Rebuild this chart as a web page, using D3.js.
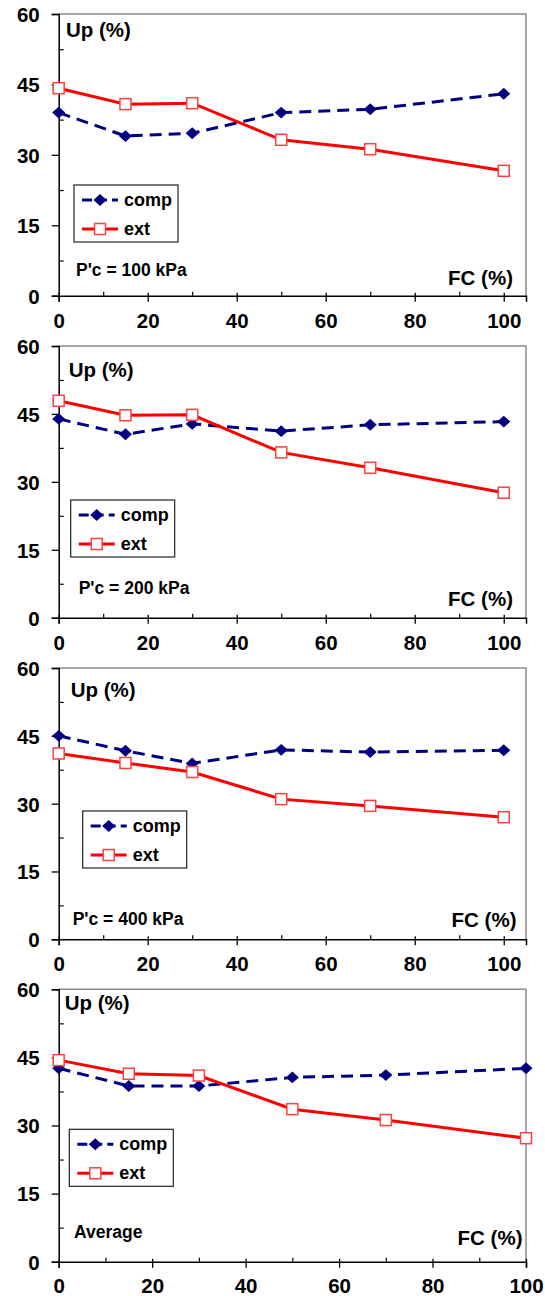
<!DOCTYPE html>
<html>
<head>
<meta charset="utf-8">
<script src="https://cdn.jsdelivr.net/npm/d3@7"></script>
<style>
  html, body { margin: 0; padding: 0; background: #fff; }
  svg { display: block; }
  text { font-family: "Liberation Sans", Arial, sans-serif; font-weight: bold; fill: #000; }
</style>
</head>
<body>
<svg id="chart" width="545" height="1296"></svg>
<script>
// ---- Data ----
const fc = [0, 15, 30, 50, 70, 100];
const seriesNames = ["comp", "ext"];
const panelLabels = ["P'c = 100 kPa", "P'c = 200 kPa", "P'c = 400 kPa", "Average"];
const comp100 = [39.0, 34.0, 34.6, 39.0, 39.7, 43.0];
const ext100  = [44.2, 40.8, 41.0, 33.2, 31.2, 26.6];
const comp200 = [43.9, 40.5, 42.8, 41.2, 42.6, 43.3];
const ext200  = [47.9, 44.7, 44.8, 36.5, 33.1, 27.6];
const comp400 = [45.0, 41.7, 38.9, 41.9, 41.4, 41.8];
const ext400  = [41.1, 39.0, 37.0, 31.0, 29.5, 27.0];
const compAvg = [42.6, 38.7, 38.7, 40.6, 41.1, 42.6];
const extAvg  = [44.4, 41.4, 41.0, 33.6, 31.2, 27.2];
const yTicks = [0, 15, 30, 45, 60];
const yMinorTicks = [7.5, 22.5, 37.5, 52.5];
const xTicks = [0, 20, 40, 60, 80, 100];
const xMinorTicks = [10, 30, 50, 70, 90];
const yTitle = "Up (%)";
const xTitle = "FC (%)";

// ---- Layout ----
const panels = [
  { comp: comp100, ext: ext100, label: panelLabels[0], top: 14,    bottom: 295.7,  xMax: 105,
    legend: [74, 185],    up: [66, 37],      lab: [76, 276],    fcR: [513, 285],  xlab: 32 },
  { comp: comp200, ext: ext200, label: panelLabels[1], top: 346,   bottom: 617.7,  xMax: 105,
    legend: [70.7, 500],  up: [68.7, 376.7], lab: [78.7, 594],  fcR: [513, 606],  xlab: 32 },
  { comp: comp400, ext: ext400, label: panelLabels[2], top: 668,   bottom: 939.3,  xMax: 105,
    legend: [82.7, 811],  up: [70.7, 696.7], lab: [72.7, 925],  fcR: [516.5, 926.5], xlab: 32 },
  { comp: compAvg, ext: extAvg, label: panelLabels[3], top: 989.3, bottom: 1261.7, xMax: 100,
    legend: [69.3, 1129.3], up: [64.7, 1010], lab: [74, 1238], fcR: [522.5, 1245], xlab: 31 }
];
const left = 58.7, right = 526;
const compColor = "#000080", extColor = "#FF0000";

const svg = d3.select("#chart");

function diamond(g, x, y) {
  g.append("path")
    .attr("d", d3.symbol().type(d3.symbolDiamond2 || d3.symbolDiamond).size(90)())
    .attr("transform", `translate(${x},${y}) scale(1.1,1)`)
    .attr("fill", compColor);
}
function square(g, x, y) {
  g.append("rect")
    .attr("x", x - 5.5).attr("y", y - 5.5)
    .attr("width", 11).attr("height", 11)
    .attr("fill", "#fff").attr("stroke", "#FF4040").attr("stroke-width", 1.5);
}

panels.forEach(p => {
  const g = svg.append("g");
  const x = d3.scaleLinear().domain([0, p.xMax]).range([left, right]);
  const y = d3.scaleLinear().domain([0, 60]).range([p.bottom, p.top]);

  // plot frame (top + right, gray)
  g.append("path")
    .attr("d", `M${left},${p.top}H${right}V${p.bottom}`)
    .attr("fill", "none").attr("stroke", "#8c8c8c").attr("stroke-width", 1.5);

  // y axis
  const ya = g.append("g").attr("transform", `translate(${left},0)`)
    .call(d3.axisLeft(y).tickValues(yTicks).tickSize(7).tickPadding(12).tickFormat(d3.format("d")));
  ya.select(".domain").attr("stroke", "#000").attr("stroke-width", 1.5);
  ya.selectAll(".tick line").attr("stroke", "#000").attr("stroke-width", 1.3);
  ya.selectAll(".tick text").attr("font-size", 20.5).attr("font-family", "Liberation Sans, Arial, sans-serif")
    .attr("font-weight", "bold").attr("fill", "#000").attr("x", -19).attr("dy", "0.36em");
  const ym = g.append("g").attr("transform", `translate(${left},0)`)
    .call(d3.axisRight(y).tickValues(yMinorTicks).tickSize(5).tickFormat(""));
  ym.select(".domain").remove();
  ym.selectAll(".tick line").attr("stroke", "#000").attr("stroke-width", 1.2);

  // x axis
  const xa = g.append("g").attr("transform", `translate(0,${p.bottom})`)
    .call(d3.axisBottom(x).tickValues(xTicks).tickSize(6).tickFormat(d3.format("d")));
  xa.select(".domain").attr("stroke", "#000").attr("stroke-width", 1.5);
  xa.selectAll(".tick line").attr("stroke", "#000").attr("stroke-width", 1.3).attr("y1", -3);
  xa.selectAll(".tick text").attr("font-size", 20.5).attr("font-family", "Liberation Sans, Arial, sans-serif")
    .attr("font-weight", "bold").attr("fill", "#000").attr("y", p.xlab).attr("dy", 0);
  const xm = g.append("g").attr("transform", `translate(0,${p.bottom})`)
    .call(d3.axisTop(x).tickValues(xMinorTicks).tickSize(4).tickFormat(""));
  xm.select(".domain").remove();
  xm.selectAll(".tick line").attr("stroke", "#000").attr("stroke-width", 1.2);

  // lines
  const line = d3.line().x((d, i) => x(fc[i])).y(d => y(d));
  g.append("path").datum(p.comp).attr("d", line)
    .attr("fill", "none").attr("stroke", compColor).attr("stroke-width", 3)
    .attr("stroke-dasharray", "12,7");
  g.append("path").datum(p.ext).attr("d", line)
    .attr("fill", "none").attr("stroke", extColor).attr("stroke-width", 3);
  p.comp.forEach((v, i) => diamond(g, x(fc[i]), y(v)));
  p.ext.forEach((v, i) => square(g, x(fc[i]), y(v)));

  // titles
  g.append("text").attr("x", p.up[0]).attr("y", p.up[1]).attr("font-size", 20.5).text(yTitle);
  g.append("text").attr("x", p.fcR[0]).attr("y", p.fcR[1]).attr("font-size", 20.5)
    .attr("text-anchor", "end").text(xTitle);
  g.append("text").attr("x", p.lab[0]).attr("y", p.lab[1]).attr("font-size", 17.5).text(p.label);

  // legend
  const [lx, ly] = p.legend;
  const lg = g.append("g");
  lg.append("rect").attr("x", lx).attr("y", ly).attr("width", 104).attr("height", 57)
    .attr("fill", "#fff").attr("stroke", "#222").attr("stroke-width", 1.2);
  const r1 = ly + 15, r2 = ly + 44;
  lg.append("line").attr("x1", lx + 8).attr("x2", lx + 44).attr("y1", r1).attr("y2", r1)
    .attr("stroke", compColor).attr("stroke-width", 3).attr("stroke-dasharray", "10,5");
  diamond(lg, lx + 26, r1);
  lg.append("text").attr("x", lx + 50).attr("y", r1 + 6).attr("font-size", 18).text(seriesNames[0]);
  lg.append("line").attr("x1", lx + 8).attr("x2", lx + 44).attr("y1", r2).attr("y2", r2)
    .attr("stroke", extColor).attr("stroke-width", 3);
  square(lg, lx + 26, r2);
  lg.append("text").attr("x", lx + 50).attr("y", r2 + 6).attr("font-size", 18).text(seriesNames[1]);
});
</script>
</body>
</html>
